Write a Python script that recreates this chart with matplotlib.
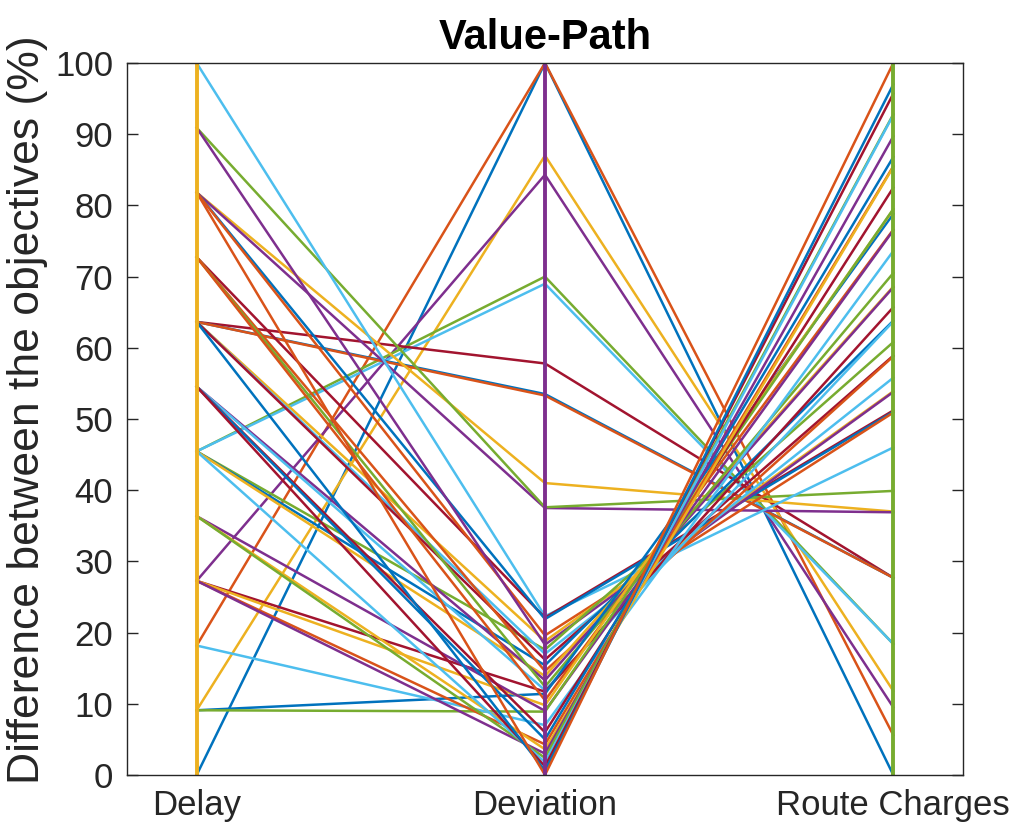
import numpy as np
import matplotlib
matplotlib.use('Agg')
import matplotlib.pyplot as plt
from cycler import cycler

# objective names on the parallel axes
objectives = ['Delay', 'Deviation', 'Route Charges']

# one row per solution, sorted by deviation (descending)
delay = [0, 18.18, 9.09, 27.27, 45.45, 45.45, 63.64, 63.64, 63.64, 81.82, 81.82, 90.91,
         100, 72.73, 81.82, 81.82, 63.64, 90.91, 45.45, 63.64, 63.64, 45.45, 72.73, 45.45,
         54.55, 72.73, 54.55, 27.27, 9.09, 72.73, 27.27, 36.36, 9.09, 18.18, 54.55, 54.55,
         27.27, 36.36, 27.27, 36.36, 45.45, 54.55, 63.64, 81.82]
deviation = [100, 100, 87.0, 84.3, 70.0, 69.0, 57.8, 53.5, 53.3, 41.0, 37.5, 37.6,
             22.3, 22.1, 21.9, 19.6, 18.8, 18.3, 17.6, 17.0, 16.2, 15.4, 14.6, 13.9,
             13.3, 12.4, 11.9, 11.7, 11.4, 10.5, 9.8, 9.0, 8.9, 7.0, 6.0, 5.0,
             4.3, 3.6, 3.0, 2.4, 1.8, 1.2, 0.6, 0.0]
route = [0, 5.6, 11.8, 9.5, 18.4, 18.4, 27.7, 27.7, 27.7, 37.0, 36.9, 39.9,
         46.0, 51.2, 51.0, 50.9, 53.9, 53.8, 60.8, 55.8, 58.9, 63.8, 58.8, 68.6,
         68.5, 70.5, 63.7, 65.7, 78.8, 76.6, 79.4, 76.5, 79.5, 73.6, 82.5, 86.8,
         85.5, 85.4, 89.7, 92.8, 92.7, 95.7, 97.0, 100]

matlab_colors = ['#0072BD', '#D95319', '#EDB120', '#7E2F8E', '#77AC30', '#4DBEEE', '#A2142F']

plt.rcParams['font.family'] = ['Liberation Sans', 'DejaVu Sans']
plt.rcParams['axes.prop_cycle'] = cycler(color=matlab_colors)

fig = plt.figure(figsize=(10.2, 8.27), dpi=100)
ax = fig.add_axes([0.1245, 0.0629, 0.8196, 0.8609])

xs = np.arange(1, len(objectives) + 1)
for d, v, r in zip(delay, deviation, route):
    ax.plot(xs, [d, v, r], lw=1.8)

# vertical axis lines drawn after the data
for x in xs:
    ax.plot([x, x], [0, 100], lw=2.8)

ax.set_xlim(0.8, 3.2)
ax.set_ylim(0, 100)
ax.set_xticks(xs)
ax.set_xticklabels(objectives)
ax.set_yticks(np.arange(0, 101, 10))
ax.tick_params(direction='in', length=8, width=1, labelsize=25, colors='#262626',
               top=True, right=True, pad=10)
for s in ax.spines.values():
    s.set_color('#262626')
    s.set_linewidth(1)
ax.set_ylabel('Difference between the objectives (%)', fontsize=32, color='#262626')
ax.yaxis.set_label_coords(-0.094, 0.513)
ax.set_title('Value-Path', fontsize=30, fontweight='bold', pad=10)

fig.savefig('out.png', dpi=100)
